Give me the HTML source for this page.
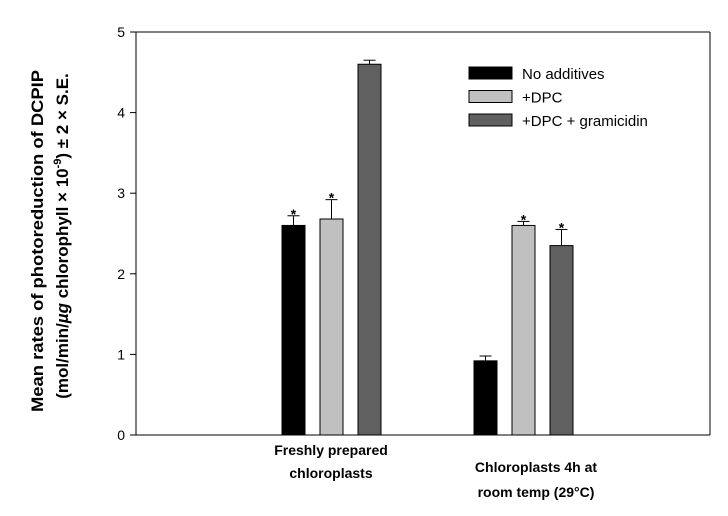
<!DOCTYPE html>
<html><head><meta charset="utf-8"><style>
body{margin:0;background:#fff;}
svg text{font-family:"Liberation Sans",sans-serif;}
</style></head><body>
<svg id="chart" width="728" height="511" xmlns="http://www.w3.org/2000/svg"></svg>
<script>
const categories = ["Freshly prepared chloroplasts","Chloroplasts 4h at room temp (29°C)"];
const seriesNames = ["No additives","+DPC","+DPC + gramicidin"];
const noAdditives = [2.6, 0.92];
const dpc = [2.68, 2.6];
const dpcGram = [4.6, 2.35];
const errNoAdditives = [0.12, 0.06];
const errDpc = [0.24, 0.05];
const errDpcGram = [0.05, 0.2];
const starNoAdditives = [true, false];
const starDpc = [true, true];
const starDpcGram = [false, true];
const yTicks = [0,1,2,3,4,5];

const svg = document.getElementById('chart');
const NS = "http://www.w3.org/2000/svg";
const L=136,R=710,T=32,B=435,yMax=5;
const y = v => B - v/yMax*(B-T);
const groupCenter = [331.5, 523.5];
const barW = 23, step = 38;
const colors = ["#000000","#c0c0c0","#606060"];
function mk(tag, attrs, parent){const e=document.createElementNS(NS,tag);for(const k in attrs)e.setAttribute(k,attrs[k]);(parent||svg).appendChild(e);return e;}

const axes = mk('g',{});


mk('line',{x1:L,y1:T,x2:L,y2:B,stroke:'#000'},axes);
mk('line',{x1:L,y1:B,x2:R,y2:B,stroke:'#000'},axes);
mk('line',{x1:L,y1:T,x2:R,y2:T,stroke:'#000'},axes);
mk('line',{x1:R,y1:T,x2:R,y2:B,stroke:'#000'},axes);
yTicks.forEach(t=>{
  mk('line',{x1:L-6,y1:y(t),x2:L,y2:y(t),stroke:'#000'},axes);
  const tx=mk('text',{x:L-11,y:y(t)+5,'text-anchor':'end','font-size':14},axes);
  tx.textContent=t;
  
  
});
const series=[noAdditives,dpc,dpcGram], errs=[errNoAdditives,errDpc,errDpcGram], stars=[starNoAdditives,starDpc,starDpcGram];
series.forEach((vals,s)=>{
  vals.forEach((v,i)=>{
    const x = groupCenter[i] + (s-1)*step - barW/2;
    const r=mk('rect',{x:x,y:y(v),width:barW,height:B-y(v),fill:colors[s],stroke:'#000','stroke-width':1});
    
    
    const cx=x+barW/2, top=y(v+errs[s][i]);
    const eb=mk('g',{});
    
    
    mk('line',{x1:cx,y1:y(v),x2:cx,y2:top,stroke:'#000'},eb);
    mk('line',{x1:cx-6,y1:top,x2:cx+6,y2:top,stroke:'#000'},eb);
    if(stars[s][i]){
      const st=mk('text',{x:cx,y:top+3,'text-anchor':'middle','font-size':14,'font-weight':'bold'});
      st.textContent='*';
      
      
    }
  });
});
// category labels
const cl=[["Freshly prepared","chloroplasts"],["Chloroplasts 4h at","room temp (29°C)"]];
const clY=[[455,478],[472,497]];
const clX=[331,536];
cl.forEach((lines,i)=>{
  lines.forEach((ln,j)=>{
    const t=mk('text',{x:clX[i],y:clY[i][j],'text-anchor':'middle','font-size':14,'font-weight':'bold'});
    t.textContent=ln;
    
    
  });
});
// y axis title
const yt=mk('text',{transform:'translate(43,241) rotate(-90)','text-anchor':'middle','font-size':17,'font-weight':'bold',textLength:342,lengthAdjust:'spacingAndGlyphs'});


yt.textContent='Mean rates of photoreduction of DCPIP';
const yt2=mk('text',{transform:'translate(68,236) rotate(-90)','text-anchor':'middle','font-size':17,'font-weight':'bold'});


yt2.innerHTML='(mol/min/<tspan font-style="italic">µg</tspan> chlorophyll × 10<tspan dy="-7" font-size="11">-9</tspan><tspan dy="7">) ± 2 × S.E.</tspan>';
// legend
seriesNames.forEach((n,s)=>{
  const g=mk('g',{});
  
  
  mk('rect',{x:469,y:67+s*23.5,width:43,height:12,fill:colors[s],stroke:'#000'},g);
  const t=mk('text',{x:522,y:79+s*23.5,'font-size':15},g);
  t.textContent=n;
});
</script>
</body></html>
